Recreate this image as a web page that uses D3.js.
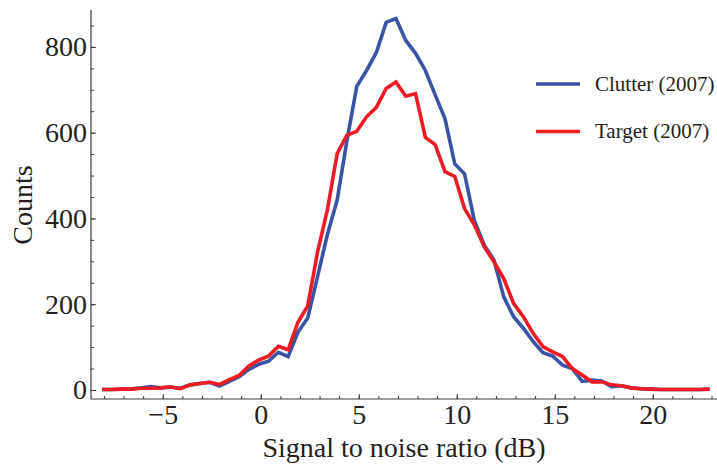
<!DOCTYPE html>
<html>
<head>
<meta charset="utf-8">
<script src="https://cdn.jsdelivr.net/npm/d3@7"></script>
<style>
  body { margin: 0; background: #fff; }
  text { font-family: "Liberation Serif", "DejaVu Serif", serif; fill: #231f20; }
</style>
</head>
<body>
<div id="chart"></div>
<script>
// bin centres (dB)
const snr = [-8.1, -7.6, -7.1, -6.6, -6.1, -5.6, -5.1, -4.6, -4.1, -3.6, -3.1, -2.6, -2.1, -1.6, -1.1, -0.6,
    -0.1, 0.4, 0.9, 1.4, 1.9, 2.4, 2.9, 3.4, 3.9, 4.4, 4.9, 5.4, 5.9, 6.4, 6.9, 7.4, 7.9, 8.4, 8.9, 9.4,
    9.9, 10.4, 10.9, 11.4, 11.9, 12.4, 12.9, 13.4, 13.9, 14.4, 14.9, 15.4, 15.9, 16.4, 16.9, 17.4, 17.9,
    18.4, 18.9, 19.4, 19.9, 20.4, 20.9, 21.4, 21.9, 22.4, 22.9];

const clutter = [1, 1, 2, 3, 5, 8, 5, 7, 4, 12, 15, 18, 9, 20, 31, 48, 60, 67, 88, 78, 135, 168, 265, 362,
    443, 582, 708, 745, 787, 857, 866, 815, 785, 745, 688, 633, 527, 504, 395, 338, 303, 217, 171, 144,
    113, 87, 79, 58, 50, 20, 23, 21, 8, 10, 5, 3, 2, 1, 1, 1, 1, 1, 2];

const target = [1, 1, 2, 2, 4, 4, 5, 7, 3, 12, 15, 18, 13, 24, 34, 56, 70, 79, 102, 94, 158, 196, 322, 420,
    551, 594, 603, 637, 659, 703, 718, 685, 691, 589, 572, 509, 498, 423, 385, 334, 299, 260, 202, 171,
    132, 101, 89, 78, 50, 35, 19, 19, 12, 10, 5, 3, 2, 1, 1, 1, 1, 1, 2];

const seriesNames = ["Clutter (2007)", "Target (2007)"];
const seriesColors = ["#3a53a4", "#ed1c24"];

const xMajor = [-5, 0, 5, 10, 15, 20];
const xMinor = d3.range(-8, 24);
const yMajor = [0, 200, 400, 600, 800];
const yMinor = d3.range(0, 851, 50);

const width = 717, height = 465;
const margin = { left: 91, right: 717, top: 10, bottom: 399 };

const svg = d3.select("#chart").append("svg")
    .attr("width", width)
    .attr("height", height)
    .attr("viewBox", [0, 0, width, height]);

const x = d3.scaleLinear([-8.66, 23.28], [margin.left, margin.right]);
const y = d3.scaleLinear([-21, 886], [margin.bottom, margin.top]);

const axisColor = "#3a3a3a";

// x axis, ticks pointing inward
const gx = svg.append("g").attr("transform", `translate(0,${margin.bottom})`);
gx.call(d3.axisBottom(x).tickValues(xMinor).tickSize(-3).tickFormat(""));
gx.call(g => g.select(".domain").remove());
gx.append("g").call(d3.axisBottom(x).tickValues(xMajor).tickSize(-5).tickPadding(5)
    .tickFormat(d => d < 0 ? "\u2212" + Math.abs(d) : d))
    .call(g => g.select(".domain").remove())
    .call(g => g.selectAll("text").attr("font-size", 28).attr("dy", "0.71em").attr("fill", "#231f20"));
gx.append("line").attr("x1", margin.left).attr("x2", margin.right).attr("stroke", axisColor).attr("stroke-width", 1.2);
gx.selectAll("line").attr("stroke", axisColor);

// y axis
const gy = svg.append("g").attr("transform", `translate(${margin.left},0)`);
gy.call(d3.axisLeft(y).tickValues(yMinor).tickSize(-3).tickFormat(""));
gy.call(g => g.select(".domain").remove());
gy.append("g").call(d3.axisLeft(y).tickValues(yMajor).tickSize(-5).tickPadding(4))
    .call(g => g.select(".domain").remove())
    .call(g => g.selectAll("text").attr("font-size", 28).attr("fill", "#231f20"));
gy.append("line").attr("y1", margin.top).attr("y2", margin.bottom).attr("stroke", axisColor).attr("stroke-width", 1.2);
gy.selectAll("line").attr("stroke", axisColor);

// axis titles
svg.append("text")
    .attr("x", (margin.left + margin.right) / 2)
    .attr("y", 457)
    .attr("text-anchor", "middle")
    .attr("font-size", 28)
    .text("Signal to noise ratio (dB)");

svg.append("text")
    .attr("transform", `translate(32,205) rotate(-90)`)
    .attr("text-anchor", "middle")
    .attr("font-size", 28)
    .text("Counts");

// lines
const line = d3.line()
    .x((d, i) => x(snr[i]))
    .y(d => y(d));

[clutter, target].forEach((s, i) => {
    svg.append("path")
        .attr("fill", "none")
        .attr("stroke", seriesColors[i])
        .attr("stroke-width", 3.6)
        .attr("stroke-linejoin", "miter")
        .attr("d", line(s));
});

// legend
const legend = svg.append("g");
seriesNames.forEach((name, i) => {
    const ly = 84 + i * 47.5;
    legend.append("line")
        .attr("x1", 536).attr("x2", 580)
        .attr("y1", ly).attr("y2", ly)
        .attr("stroke", seriesColors[i])
        .attr("stroke-width", 3.6);
    legend.append("text")
        .attr("x", 595)
        .attr("y", ly)
        .attr("dy", "0.33em")
        .attr("font-size", 21)
        .text(name);
});
</script>
</body>
</html>
